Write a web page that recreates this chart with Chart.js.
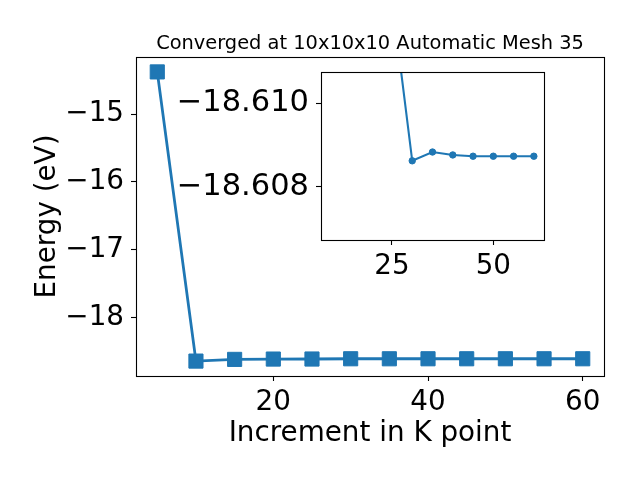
<!DOCTYPE html>
<html>
<head>
<meta charset="utf-8">
<script src="https://cdn.jsdelivr.net/npm/chart.js@4"></script>
<style>
  body { margin: 0; background: #fff; }
  #wrap { position: relative; width: 640px; height: 480px; }
  #wrap canvas { position: absolute; left: 0; top: 0; }
</style>
</head>
<body>
<div id="wrap">
  <canvas id="main" width="640" height="480"></canvas>
  <canvas id="inset" width="640" height="480"></canvas>
</div>
<script>
// data
const kPoints = [5, 10, 15, 20, 25, 30, 35, 40, 45, 50, 55, 60];
const energies = [-14.376, -18.643, -18.618, -18.613, -18.6125, -18.60862, -18.60883, -18.60876, -18.60873, -18.60873, -18.60873, -18.60873];

const mainXTicks = [20, 40, 60];
const mainYTicks = [-15, -16, -17, -18];
const insetXTicks = [25, 50];
const insetYTicks = [-18.610, -18.608];

const titleText = 'Converged at 10x10x10 Automatic Mesh 35';
const xLabel = 'Increment in K point';
const yLabel = 'Energy (eV)';

const blue = '#1f77b4';
const FONT = 'DejaVu Sans';

const points = kPoints.map((k, i) => ({ x: k, y: energies[i] }));
// the inset leaves out the first point
const insetPoints = points.slice(1);

function minus(s) {
    return String(s).replace('-', '\u2212');
}

// matplotlib-like box around the axes
const frame = {
    id: 'frame',
    beforeDraw(chart, args, opts) {
        if (opts.fill) {
            const a = chart.chartArea;
            chart.ctx.save();
            chart.ctx.fillStyle = '#fff';
            chart.ctx.fillRect(a.left, a.top, a.right - a.left, a.bottom - a.top);
            chart.ctx.restore();
        }
    },
    afterDraw(chart) {
        const a = chart.chartArea;
        const c = chart.ctx;
        c.save();
        c.strokeStyle = '#000';
        c.lineWidth = 1.1;
        c.strokeRect(Math.round(a.left) + 0.5, Math.round(a.top) + 0.5,
            Math.round(a.right - a.left), Math.round(a.bottom - a.top));
        c.restore();
    }
};

// title and axis labels
const labels = {
    id: 'labels',
    afterDraw(chart) {
        const c = chart.ctx;
        c.save();
        c.fillStyle = '#000';
        c.textAlign = 'center';
        c.textBaseline = 'alphabetic';
        c.font = '19.4px "' + FONT + '"';
        c.fillText(titleText, 370, 48.5);
        c.font = '27.8px "' + FONT + '"';
        c.fillText(xLabel, 370, 441);
        c.translate(54.5, 216.5);
        c.rotate(-Math.PI / 2);
        c.fillText(yLabel, 0, 0);
        c.restore();
    }
};

function axis(min, max, ticks, fmt, fit, extra, size, pad) {
    return Object.assign({
        type: 'linear',
        min: min,
        max: max,
        afterBuildTicks: s => { s.ticks = ticks.map(v => ({ value: v })); },
        afterFit: fit,
        grid: { drawOnChartArea: false, drawTicks: true, tickLength: 5, tickColor: '#000', tickWidth: 1.1 },
        border: { display: false },
        ticks: {
            color: '#000',
            padding: pad || 5,
            font: { family: FONT, size: size || 27.8 },
            callback: fmt
        }
    }, extra || {});
}

Chart.defaults.animation = false;

// main plot
new Chart(document.getElementById('main'), {
    type: 'line',
    data: {
        datasets: [{
            data: points,
            borderColor: blue,
            backgroundColor: blue,
            borderWidth: 2.8,
            pointStyle: 'rect',
            pointRadius: 10,
            pointBorderWidth: 1,
            pointBorderColor: blue,
            tension: 0
        }]
    },
    options: {
        responsive: false,
        devicePixelRatio: 1,
        layout: { padding: { top: 57, right: 36, left: 0, bottom: 0 } },
        plugins: { legend: { display: false }, tooltip: { enabled: false }, frame: { fill: false } },
        scales: {
            x: axis(2.25, 62.75, mainXTicks, v => minus(v), s => { s.height = 104; }),
            y: axis(-18.863, -14.156, mainYTicks, v => minus(v), s => { s.width = 136; }, null, 27.8, 7)
        }
    },
    plugins: [frame, labels]
});

// inset
new Chart(document.getElementById('inset'), {
    type: 'line',
    data: {
        datasets: [{
            data: insetPoints,
            borderColor: blue,
            backgroundColor: blue,
            borderWidth: 2.1,
            pointStyle: 'circle',
            pointRadius: 3.2,
            pointBorderWidth: 1,
            pointBorderColor: blue,
            tension: 0
        }]
    },
    options: {
        responsive: false,
        devicePixelRatio: 1,
        layout: { padding: { top: 72, right: 96, left: 0, bottom: 0 } },
        plugins: { legend: { display: false }, tooltip: { enabled: false }, frame: { fill: true } },
        scales: {
            x: axis(7.5, 62.5, insetXTicks, v => minus(v), s => { s.height = 240; }),
            y: axis(-18.61074, -18.60673, insetYTicks, v => minus(v.toFixed(3)), s => { s.width = 321; },
                { reverse: true }, 30.5, 7)
        }
    },
    plugins: [frame]
});
</script>
</body>
</html>
